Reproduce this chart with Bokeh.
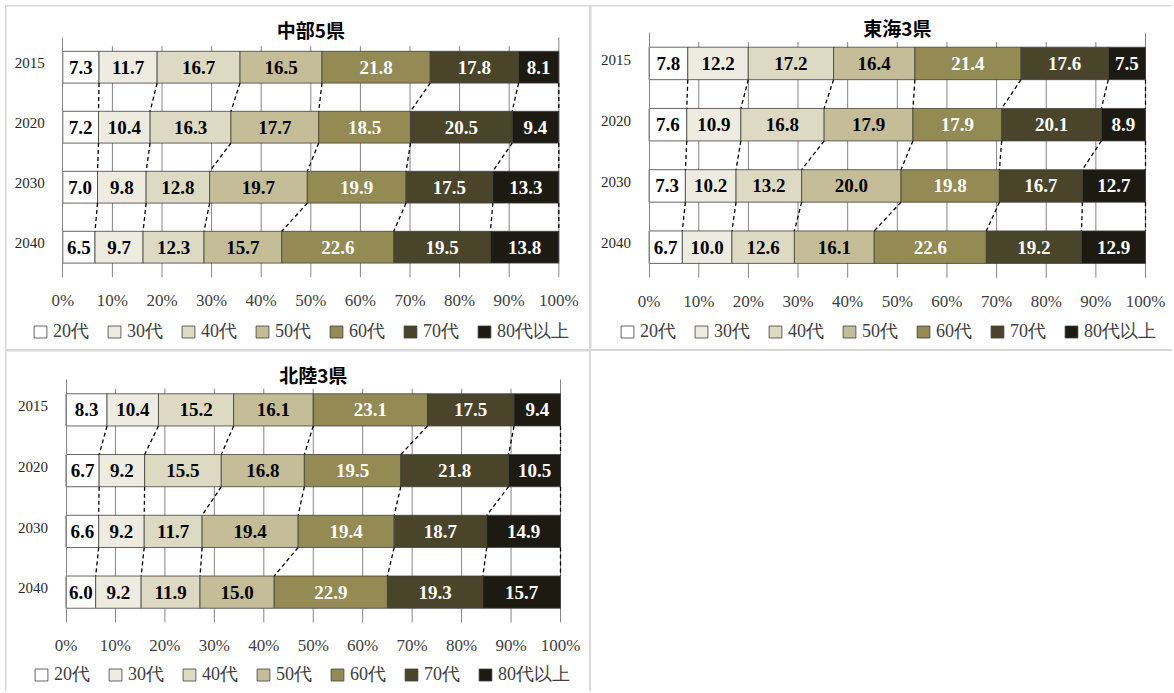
from bokeh.plotting import figure
from bokeh.models import (Range1d, FixedTicker, ColumnDataSource, Legend,
                          LegendItem, Spacer, PrintfTickFormatter, Label)
from bokeh.layouts import row, column
from bokeh.embed import file_html
from bokeh.resources import INLINE
from bokeh.core.properties import value

# ---------------- data ----------------
years = ["2015", "2020", "2030", "2040"]
ages = ["20代", "30代", "40代", "50代", "60代", "70代", "80代以上"]
colors = ["#FFFFFF", "#EEECE1", "#DDD9C3", "#C4BD97", "#948A54", "#4A452A", "#1D1B11"]
label_colors = ["#000000", "#000000", "#000000", "#000000", "#FFFFFF", "#FFFFFF", "#FFFFFF"]
pct_ticks = [0, 10, 20, 30, 40, 50, 60, 70, 80, 90, 100]

chubu_title = "中部5県"
chubu_2015 = [7.3, 11.7, 16.7, 16.5, 21.8, 17.8, 8.1]
chubu_2020 = [7.2, 10.4, 16.3, 17.7, 18.5, 20.5, 9.4]
chubu_2030 = [7.0, 9.8, 12.8, 19.7, 19.9, 17.5, 13.3]
chubu_2040 = [6.5, 9.7, 12.3, 15.7, 22.6, 19.5, 13.8]

tokai_title = "東海3県"
tokai_2015 = [7.8, 12.2, 17.2, 16.4, 21.4, 17.6, 7.5]
tokai_2020 = [7.6, 10.9, 16.8, 17.9, 17.9, 20.1, 8.9]
tokai_2030 = [7.3, 10.2, 13.2, 20.0, 19.8, 16.7, 12.7]
tokai_2040 = [6.7, 10.0, 12.6, 16.1, 22.6, 19.2, 12.9]

hokuriku_title = "北陸3県"
hokuriku_2015 = [8.3, 10.4, 15.2, 16.1, 23.1, 17.5, 9.4]
hokuriku_2020 = [6.7, 9.2, 15.5, 16.8, 19.5, 21.8, 10.5]
hokuriku_2030 = [6.6, 9.2, 11.7, 19.4, 19.4, 18.7, 14.9]
hokuriku_2040 = [6.0, 9.2, 11.9, 15.0, 22.9, 19.3, 15.7]

SERIF = "Liberation Serif"
GRID = "#868686"
BAR_H = 0.53
YLAB_SHIFT = 0.0625   # year labels sit slightly above the bar centre


def make_panel(title, rows, width, height, box, title_off, tick_standoff, leg_loc):
    # box = (left, right, top, bottom) pixel position of the 0..100% / category area
    pl, pr, pt, pb = box
    n = len(years)
    sx = (pr - pl) / 100.0
    band = (pb - pt) / n
    p = figure(width=width, height=height, output_backend="svg",
               toolbar_location=None, title_location=None,
               x_range=Range1d(-pl / sx, 100 + (width - pr) / sx),
               y_range=Range1d(-(height - pb) / band, n + pt / band),
               min_border_left=0, min_border_right=0,
               min_border_top=0, min_border_bottom=0)
    p.outline_line_color = None
    p.xgrid.visible = False
    p.ygrid.visible = False
    p.background_fill_color = "white"
    p.border_fill_color = "white"

    centers = [n - 0.5 - i for i in range(n)]

    cums = []
    for r in rows:
        tot = sum(r)
        c = [0.0]
        for v in r:
            c.append(c[-1] + v / tot * 100.0)
        cums.append(c)

    # grid lines
    inner = pct_ticks[1:-1]
    p.segment(x0=inner, y0=[0] * len(inner), x1=inner, y1=[n - 0.15] * len(inner),
              line_color=GRID, line_width=1)
    p.segment(x0=[pct_ticks[-1]], y0=[0], x1=[pct_ticks[-1]], y1=[n],
              line_color=GRID, line_width=1)

    # bars
    rends = []
    for j in range(len(ages)):
        src = ColumnDataSource(dict(
            y=centers,
            left=[cums[i][j] for i in range(n)],
            right=[cums[i][j + 1] for i in range(n)],
        ))
        r = p.hbar(y="y", left="left", right="right", height=BAR_H, source=src,
                   fill_color=colors[j], line_color="#404040", line_width=0.8)
        rends.append(r)

    # series lines
    x0, y0, x1, y1 = [], [], [], []
    for i in range(n - 1):
        for k in range(1, len(ages) + 1):
            x0.append(cums[i][k]); y0.append(centers[i] - BAR_H / 2)
            x1.append(cums[i + 1][k]); y1.append(centers[i + 1] + BAR_H / 2)
    p.segment(x0=x0, y0=y0, x1=x1, y1=y1, line_color="black",
              line_width=1.3, line_dash="4 3")

    # data labels
    lx, ly, lt, lc = [], [], [], []
    for i in range(n):
        for j in range(len(ages)):
            lx.append((cums[i][j] + cums[i][j + 1]) / 2)
            ly.append(centers[i])
            lt.append(f"{rows[i][j]:.1f}")
            lc.append(label_colors[j])
    p.text(x=lx, y=ly, text=lt, text_color=lc, text_font=value(SERIF),
           text_font_style="bold", text_font_size="19px",
           text_align="center", text_baseline="middle")

    # axes
    xa = p.xaxis[0]
    xa.fixed_location = 0
    xa.ticker = FixedTicker(ticks=pct_ticks)
    xa.formatter = PrintfTickFormatter(format="%d%%")
    xa.axis_line_color = None
    xa.major_tick_line_color = None
    xa.minor_tick_line_color = None
    xa.major_tick_out = 0
    xa.major_tick_in = 0
    xa.major_label_standoff = tick_standoff
    xa.major_label_text_font = SERIF
    xa.major_label_text_font_size = "17px"
    xa.major_label_text_color = "#404040"

    ya = p.yaxis[0]
    ya.fixed_location = 0
    ya.bounds = (0, n)
    yt = [c + YLAB_SHIFT for c in centers]
    ya.ticker = FixedTicker(ticks=yt)
    ya.major_label_overrides = {t: y for t, y in zip(yt, years)}
    ya.axis_line_color = GRID
    ya.major_tick_line_color = None
    ya.minor_tick_line_color = None
    ya.major_tick_out = 0
    ya.major_tick_in = 0
    ya.major_label_standoff = 18
    ya.major_label_text_font = SERIF
    ya.major_label_text_font_size = "15px"
    ya.major_label_text_color = "#262626"

    # title
    p.add_layout(Label(x=50, y=n, text=title, text_align="center",
                       text_baseline="middle", y_offset=title_off,
                       text_font="Noto Sans CJK JP", text_font_style="bold",
                       text_font_size="19px", text_color="black"))

    # legend
    items = [LegendItem(label=a, renderers=[r]) for a, r in zip(ages, rends)]
    leg = Legend(items=items, orientation="horizontal", location=leg_loc,
                 glyph_width=16, glyph_height=15, label_standoff=5, spacing=17,
                 padding=0, margin=0, border_line_color=None,
                 background_fill_alpha=0, label_text_font=SERIF,
                 label_text_font_size="18px", label_text_color="#404040",
                 label_text_baseline="alphabetic", label_height=20)
    p.add_layout(leg, "center")
    return p


p1 = make_panel(chubu_title, [chubu_2015, chubu_2020, chubu_2030, chubu_2040],
                583, 343, (56.3, 552.3, 30.7, 270.7), 8, 14, (26, 6))
p2 = make_panel(tokai_title, [tokai_2015, tokai_2020, tokai_2030, tokai_2040],
                581, 343, (57.6, 554.0, 26.3, 271.3), 5, 14, (28, 6))
p3 = make_panel(hokuriku_title, [hokuriku_2015, hokuriku_2020, hokuriku_2030, hokuriku_2040],
                583, 340, (59.5, 554.0, 28.0, 271.0), 5, 13, (27, 5))

sp = Spacer(width=581, height=340, styles={"background-color": "white"})
layout = column(row(p1, p2, spacing=2), row(p3, sp, spacing=2), spacing=2,
                styles={"background-color": "#d9d9d9", "padding": "1px 0px 0px 1px",
                        "margin": "5px 0px 0px 5px"})

open("out.html", "w").write(file_html(layout, INLINE))
